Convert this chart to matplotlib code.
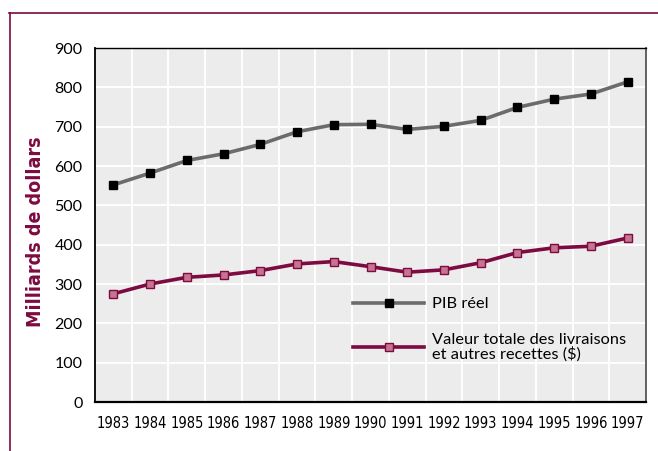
import matplotlib
matplotlib.use("Agg")
import matplotlib.pyplot as plt
from matplotlib.lines import Line2D

# Data
years = [1983, 1984, 1985, 1986, 1987, 1988, 1989, 1990,
         1991, 1992, 1993, 1994, 1995, 1996, 1997]
pib_reel = [552, 582, 614, 631, 655, 687, 705, 706,
            693, 701, 716, 749, 770, 783, 814]
livraisons = [275, 300, 317, 323, 334, 351, 357, 344,
              330, 336, 354, 380, 392, 396, 417]
y_ticks = [0, 100, 200, 300, 400, 500, 600, 700, 800, 900]

label_pib = "PIB réel"
label_liv = "Valeur totale des livraisons\net autres recettes ($)"
y_label = "Milliards de dollars"

maroon = "#7d0a40"
pink = "#c77490"
gray_line = "#6b6b6b"
narrow = ["DejaVu Sans"]

W, H = 658, 451
fig = plt.figure(figsize=(W / 100, H / 100), dpi=100)

# outer maroon frame (top and left edges only)
fig.add_artist(Line2D([9 / W, 1.0], [1 - 13 / H, 1 - 13 / H],
                      color=maroon, lw=1.2, transform=fig.transFigure))
fig.add_artist(Line2D([9.5 / W, 9.5 / W], [0, 1 - 13 / H],
                      color=maroon, lw=1.2, transform=fig.transFigure))

ax = fig.add_axes([95 / W, 1 - 402 / H, (646 - 95) / W, (402 - 48) / H])
ax.set_facecolor("#ececec")

ax.plot(years, pib_reel, color=gray_line, lw=2.6, marker="s", ms=6,
        mfc="black", mec="black", label=label_pib, zorder=3)
ax.plot(years, livraisons, color=maroon, lw=2.6, marker="s", ms=6,
        mfc=pink, mec=maroon, mew=1, label=label_liv, zorder=3)

ax.set_xlim(1982.5, 1997.5)
ax.set_ylim(0, 900)
ax.set_xticks(years)
ax.set_yticks(y_ticks)
ax.set_xticks([y + 0.5 for y in years[:-1]], minor=True)
ax.grid(True, which="minor", axis="x", color="white", lw=1.3)
ax.grid(True, which="major", axis="y", color="white", lw=1.3)
ax.set_axisbelow(True)

ax.tick_params(axis="both", which="both", length=0)
ax.tick_params(axis="y", pad=9, labelsize=11.5)
ax.tick_params(axis="x", pad=10)
for lab in ax.get_yticklabels():
    lab.set_family(["Lato", "DejaVu Sans"])
for lab in ax.get_xticklabels():
    lab.set_family(narrow)
    lab.set_stretch("condensed")
    lab.set_fontsize(10.5)

for side in ["left", "bottom", "top"]:
    ax.spines[side].set_color("black")
ax.spines["left"].set_linewidth(1.3)
ax.spines["bottom"].set_linewidth(1.6)
ax.spines["top"].set_linewidth(1.0)
ax.spines["right"].set_color("#555555")
ax.spines["right"].set_linewidth(1.3)

fig.text(36 / W, 1 - 232 / H, y_label, rotation=90, ha="center", va="center",
         color=maroon, fontsize=14, fontweight="bold", fontstretch="condensed",
         family=narrow)

leg = ax.legend(loc="upper left", bbox_to_anchor=((353 - 95) / 551, (402 - 297) / 354),
                frameon=False, handlelength=4.35, handletextpad=0.45,
                labelspacing=1.3, borderpad=0, borderaxespad=0, markerscale=0.85,
                prop={"family": ["Lato", "DejaVu Sans"], "size": 11.8})
for t in leg.get_texts():
    t.set_linespacing(0.95)

fig.savefig("out.png", dpi=100, facecolor="white")
